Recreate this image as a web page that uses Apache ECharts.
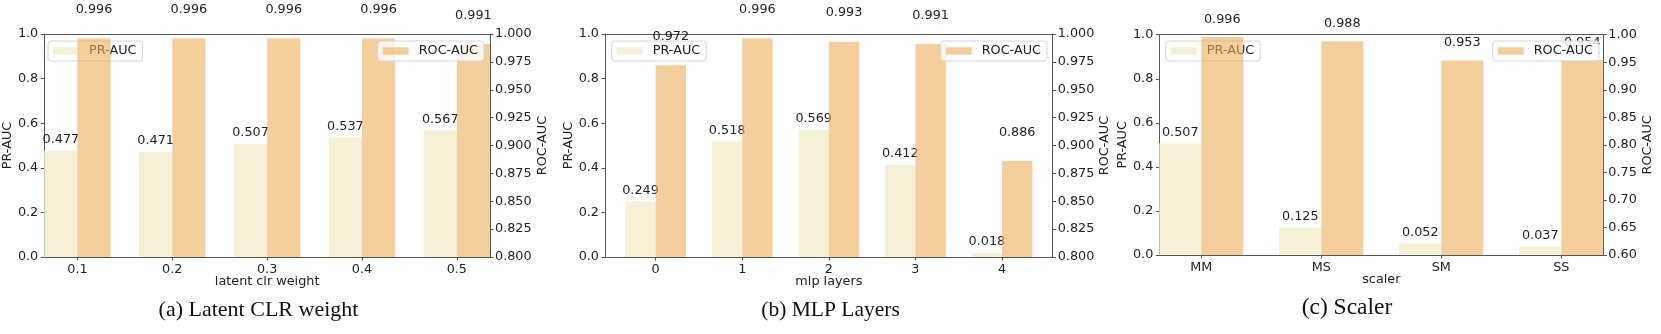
<!DOCTYPE html>
<html>
<head>
<meta charset="utf-8">
<script src="https://cdn.jsdelivr.net/npm/echarts@6/dist/echarts.min.js"></script>
<style>
html, body { margin: 0; padding: 0; background: #fff; }
#main { width: 1661px; height: 334px; }
</style>
</head>
<body>
<div id="main"></div>
<script>
// (a) latent clr weight
var latentCats = ['0.1', '0.2', '0.3', '0.4', '0.5'];
var latentPR = [0.477, 0.471, 0.507, 0.537, 0.567];
var latentROC = [0.996, 0.996, 0.996, 0.996, 0.991];

// (b) mlp layers
var mlpCats = ['0', '1', '2', '3', '4'];
var mlpPR = [0.249, 0.518, 0.569, 0.412, 0.018];
var mlpROC = [0.972, 0.996, 0.993, 0.991, 0.886];

// (c) scaler
var scalerCats = ['MM', 'MS', 'SM', 'SS'];
var scalerPR = [0.507, 0.125, 0.052, 0.037];
var scalerROC = [0.996, 0.988, 0.953, 0.954];

// axis ranges [min, max, step]
var prRange = [0, 1, 0.2];
var rocRangeAB = [0.8, 1.0, 0.025];
var rocRangeC = [0.6, 1.0, 0.05];

var prColor = '#f6f0d6';
var rocColor = 'rgba(238,173,92,0.6)';
var ink = '#222';
var spine = '#555';
var font = 'DejaVu Sans';
var fs = 12.8;

var panels = [
  {cats: latentCats, pr: latentPR, roc: latentROC, rocRange: rocRangeAB, rocDigits: 3,
   xName: 'latent clr weight', caption: '(a) Latent CLR weight',
   left: 42, top: 34, width: 448, height: 223, xMin: -0.35, xMax: 4.35,
   prGap: 29, rocGap: 46, prLeg: 48, rocLeg: 377.7, capX: 258.5, capY: 310, capSize: 22},
  {cats: mlpCats, pr: mlpPR, roc: mlpROC, rocRange: rocRangeAB, rocDigits: 3,
   xName: 'mlp layers', caption: '(b) MLP Layers',
   left: 605, top: 34, width: 447.7, height: 223, xMin: -0.585, xMax: 4.585,
   prGap: 26, rocGap: 45, prLeg: 611.7, rocLeg: 940.7, capX: 830.5, capY: 310, capSize: 21.5},
  {cats: scalerCats, pr: scalerPR, roc: scalerROC, rocRange: rocRangeC, rocDigits: 2,
   xName: 'scaler', caption: '(c) Scaler',
   left: 1159.3, top: 34.7, width: 444, height: 220.3, xMin: -0.35, xMax: 3.35,
   prGap: 25, rocGap: 38, prLeg: 1165.7, rocLeg: 1492.7, capX: 1347, capY: 308, capSize: 23.5}
];

var chart = echarts.init(document.getElementById('main'));

var option = {
  animation: false,
  backgroundColor: '#fff',
  textStyle: {fontFamily: font},
  grid: [], xAxis: [], yAxis: [], series: [], legend: [], graphic: []
};

panels.forEach(function (p, k) {
  var ticks = p.cats.map(function (c, i) { return i; });
  option.grid.push({left: p.left, top: p.top, width: p.width, height: p.height, containLabel: false});

  // bottom axis (PR bars) with category tick labels
  option.xAxis.push({
    type: 'value', gridIndex: k, min: p.xMin, max: p.xMax, position: 'bottom',
    name: p.xName, nameLocation: 'middle', nameGap: 18, nameMoveOverlap: false,
    nameTextStyle: {fontSize: fs, color: ink, fontFamily: font},
    axisLine: {show: true, onZero: false, lineStyle: {color: spine, width: 1}},
    axisTick: {show: true, length: 3.5, customValues: ticks, lineStyle: {color: spine}},
    axisLabel: {show: true, customValues: ticks, margin: 6, fontSize: fs, color: ink, fontFamily: font,
      formatter: function (v) { return p.cats[Math.round(v)]; }},
    splitLine: {show: false}
  });
  // top axis (ROC bars), acts as the top spine
  option.xAxis.push({
    type: 'value', gridIndex: k, min: p.xMin, max: p.xMax, position: 'top',
    axisLine: {show: true, onZero: false, lineStyle: {color: spine, width: 1}},
    axisTick: {show: false}, axisLabel: {show: false}, splitLine: {show: false}
  });

  option.yAxis.push({
    type: 'value', gridIndex: k, min: prRange[0], max: prRange[1], interval: prRange[2], position: 'left',
    name: 'PR-AUC', nameLocation: 'middle', nameGap: p.prGap, nameRotate: 90,
    nameTextStyle: {fontSize: fs, color: ink, fontFamily: font},
    axisLine: {show: true, onZero: false, lineStyle: {color: spine, width: 1}},
    axisTick: {show: true, length: 3.5, lineStyle: {color: spine}},
    axisLabel: {margin: 6, fontSize: fs, color: ink, fontFamily: font,
      formatter: function (v) { return v.toFixed(1); }},
    splitLine: {show: false}
  });
  option.yAxis.push({
    type: 'value', gridIndex: k, min: p.rocRange[0], max: p.rocRange[1], interval: p.rocRange[2], position: 'right',
    name: 'ROC-AUC', nameLocation: 'middle', nameGap: p.rocGap, nameRotate: 90,
    nameTextStyle: {fontSize: fs, color: ink, fontFamily: font},
    axisLine: {show: true, onZero: false, lineStyle: {color: spine, width: 1}},
    axisTick: {show: true, length: 3.5, lineStyle: {color: spine}},
    axisLabel: {margin: 5, fontSize: fs, color: ink, fontFamily: font,
      formatter: function (v) { return v.toFixed(p.rocDigits); }},
    splitLine: {show: false}
  });

  var prPx = p.height / (prRange[1] - prRange[0]);
  var rocPx = p.height / (p.rocRange[1] - p.rocRange[0]);

  option.series.push({
    name: 'PR-AUC', type: 'bar', xAxisIndex: 2 * k, yAxisIndex: 2 * k, z: 2,
    barWidth: '35%',
    itemStyle: {color: prColor},
    label: {show: true, position: 'top', distance: 0.02 * prPx, fontSize: fs, color: ink, fontFamily: font,
      formatter: function (d) { return d.value[1].toFixed(3); }},
    data: p.pr.map(function (v, i) { return [i - 0.175, v]; })
  });
  option.series.push({
    name: 'ROC-AUC', type: 'bar', xAxisIndex: 2 * k + 1, yAxisIndex: 2 * k + 1, z: 3,
    barWidth: '35%',
    itemStyle: {color: rocColor},
    label: {show: true, position: 'top', distance: 0.02 * rocPx, fontSize: fs, color: ink, fontFamily: font,
      formatter: function (d) { return d.value[1].toFixed(3); }},
    data: p.roc.map(function (v, i) { return [i + 0.175, v]; })
  });

  var legendBase = {
    top: 41, orient: 'vertical', itemWidth: 26, itemHeight: 7.5,
    padding: [3.5, 6, 3.5, 5], borderColor: '#d6d6d6', borderWidth: 1, borderRadius: 3,
    backgroundColor: 'rgba(255,255,255,0.8)', icon: 'rect',
    textStyle: {fontSize: fs, color: ink, fontFamily: font, padding: [0, 0, 0, 5]}
  };
  option.legend.push(Object.assign({}, legendBase, {left: p.prLeg, z: 1, data: ['PR-AUC'],
    itemStyle: {color: prColor}}));
  option.legend.push(Object.assign({}, legendBase, {left: p.rocLeg, z: 5, data: ['ROC-AUC']}));

  option.graphic.push({
    type: 'text', x: p.capX, y: p.capY, z: 10,
    style: {text: p.caption, textAlign: 'center', textVerticalAlign: 'middle',
      font: p.capSize + 'px "Liberation Serif"', fill: '#111'}
  });
});

// the two left subfigures are cropped just under the axis name
option.graphic.push({
  type: 'rect', shape: {x: 0, y: 288, width: 1100, height: 8}, z: 9,
  style: {fill: '#fff'}
});

chart.setOption(option);
</script>
</body>
</html>
